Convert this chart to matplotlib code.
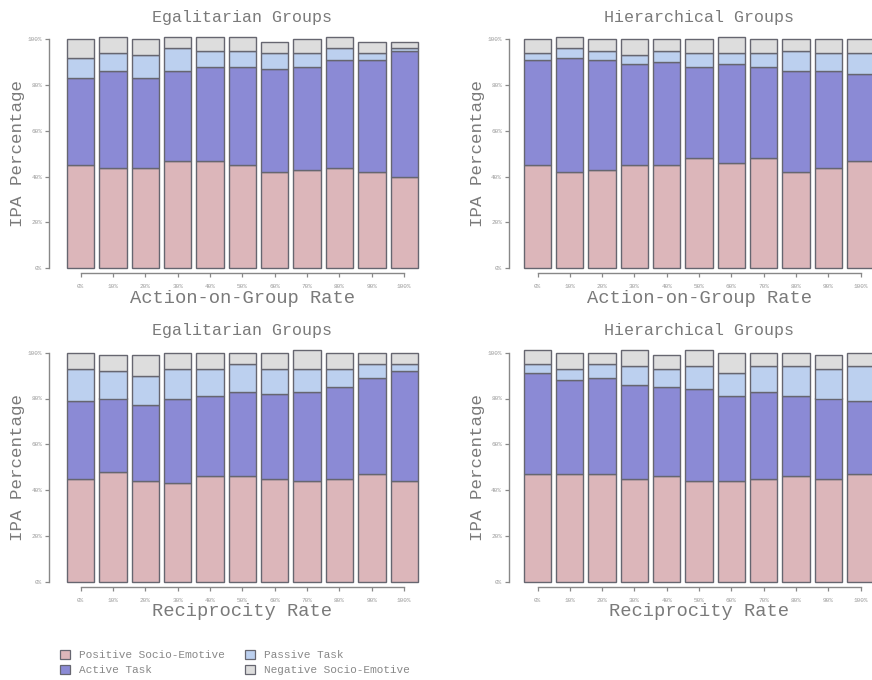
import numpy as np
import matplotlib
matplotlib.use("Agg")
import matplotlib.pyplot as plt
from matplotlib.patches import Patch
import matplotlib.transforms as mtransforms

plt.rcParams["font.family"] = ["Liberation Mono", "DejaVu Sans Mono"]

rates = ["0%", "10%", "20%", "30%", "40%", "50%", "60%", "70%", "80%", "90%", "100%"]
categories = ["Positive Socio-Emotive", "Active Task", "Passive Task", "Negative Socio-Emotive"]
colors = ["#dcb6ba", "#8b8ad5", "#bcd0ef", "#dddddd"]

# IPA shares (%) per condition: positive, active, passive, negative
aog_egal_pos = [45, 44, 44, 47, 47, 45, 42, 43, 44, 42, 40]
aog_egal_act = [38, 42, 39, 39, 41, 43, 45, 45, 47, 49, 55]
aog_egal_pas = [9, 8, 10, 10, 7, 7, 7, 6, 5, 3, 1]
aog_egal_neg = [8, 7, 7, 5, 6, 6, 5, 6, 5, 5, 3]

aog_hier_pos = [45, 42, 43, 45, 45, 48, 46, 48, 42, 44, 47]
aog_hier_act = [46, 50, 48, 44, 45, 40, 43, 40, 44, 42, 38]
aog_hier_pas = [3, 4, 4, 4, 5, 6, 5, 6, 9, 8, 9]
aog_hier_neg = [6, 5, 5, 7, 5, 6, 7, 6, 5, 6, 6]

rec_egal_pos = [45, 48, 44, 43, 46, 46, 45, 44, 45, 47, 44]
rec_egal_act = [34, 32, 33, 37, 35, 37, 37, 39, 40, 42, 48]
rec_egal_pas = [14, 12, 13, 13, 12, 12, 11, 10, 8, 6, 3]
rec_egal_neg = [7, 7, 9, 7, 7, 5, 7, 8, 7, 5, 5]

rec_hier_pos = [47, 47, 47, 45, 46, 44, 44, 45, 46, 45, 47]
rec_hier_act = [44, 41, 42, 41, 39, 40, 37, 38, 35, 35, 32]
rec_hier_pas = [4, 5, 6, 8, 8, 10, 10, 11, 13, 13, 15]
rec_hier_neg = [6, 7, 5, 7, 6, 7, 9, 6, 6, 6, 6]

W, H = 872, 680
fig = plt.figure(figsize=(W / 100, H / 100), dpi=100)
grey = "#7a7a7a"


def px_axes(left, right, bottom, top):
    return fig.add_axes([left / W, 1 - bottom / H, (right - left) / W, (bottom - top) / H])


panels = [
    # (left px, right px, first bar px, spacing, zero px, hundred px, title, xlabel, data)
    (49.3, 420, 80.5, 32.37, 268.3, 39.3, "Egalitarian Groups", "Action-on-Group Rate",
     [aog_egal_pos, aog_egal_act, aog_egal_pas, aog_egal_neg]),
    (509, 880, 537.5, 32.3, 268.3, 39.3, "Hierarchical Groups", "Action-on-Group Rate",
     [aog_hier_pos, aog_hier_act, aog_hier_pas, aog_hier_neg]),
    (49.3, 420, 80.5, 32.37, 581.7, 352.7, "Egalitarian Groups", "Reciprocity Rate",
     [rec_egal_pos, rec_egal_act, rec_egal_pas, rec_egal_neg]),
    (509, 880, 537.5, 32.3, 581.7, 352.7, "Hierarchical Groups", "Reciprocity Rate",
     [rec_hier_pos, rec_hier_act, rec_hier_pas, rec_hier_neg]),
]

x = np.arange(len(rates))
for left, right, c0, step, y0, y100, title, xlabel, data in panels:
    ax = px_axes(left, right, y0, y100)
    ax.set_xlim((left - c0) / step, (right - c0) / step)
    ax.set_ylim(0, 100)
    bottom = np.zeros(len(rates))
    for vals, col in zip(data, colors):
        vals = np.array(vals, dtype=float)
        ax.bar(x, vals, bottom=bottom, width=0.845, color=col,
               edgecolor="#666670", linewidth=1.0, clip_on=False, zorder=3)
        bottom += vals

    for s in ["top", "right"]:
        ax.spines[s].set_visible(False)
    ax.spines["left"].set_bounds(0, 100)
    ax.spines["bottom"].set_bounds(0, 10)
    ax.spines["bottom"].set_position(("outward", 3.5))
    for s in ["left", "bottom"]:
        ax.spines[s].set_color("#888888")
        ax.spines[s].set_linewidth(1.0)

    ax.set_yticks(np.arange(0, 101, 20))
    ax.set_yticklabels([f"{v}%" for v in range(0, 101, 20)])
    ax.set_xticks(x)
    ax.set_xticklabels(rates)
    ax.tick_params(axis="both", colors="#888888", labelcolor="#999999",
                   labelsize=4.3, length=3, width=0.9)
    ax.tick_params(axis="x", pad=5)
    ax.tick_params(axis="y", pad=2)

    trans = mtransforms.blended_transform_factory(ax.transData, ax.transAxes)
    ax.text(5, 1 + 22 / 229, title, transform=trans, ha="center", va="center",
            fontsize=12, color=grey)
    ax.text(5, -30 / 229, xlabel, transform=trans, ha="center", va="center",
            fontsize=13.5, color=grey)
    ax.set_ylabel("IPA Percentage", fontsize=12.6, color=grey, labelpad=2)

handles = [Patch(facecolor=c, edgecolor="#666670", linewidth=0.9) for c in colors]
fig.legend(handles, categories, ncol=2,
           loc="upper left", bbox_to_anchor=(60 / W, 1 - 650 / H),
           frameon=False, fontsize=8, labelcolor="#888888",
           handlelength=0.9, handleheight=0.9, handletextpad=0.8,
           columnspacing=1.8, labelspacing=0.4, borderaxespad=0, borderpad=0)

fig.savefig("out.png", dpi=100)
